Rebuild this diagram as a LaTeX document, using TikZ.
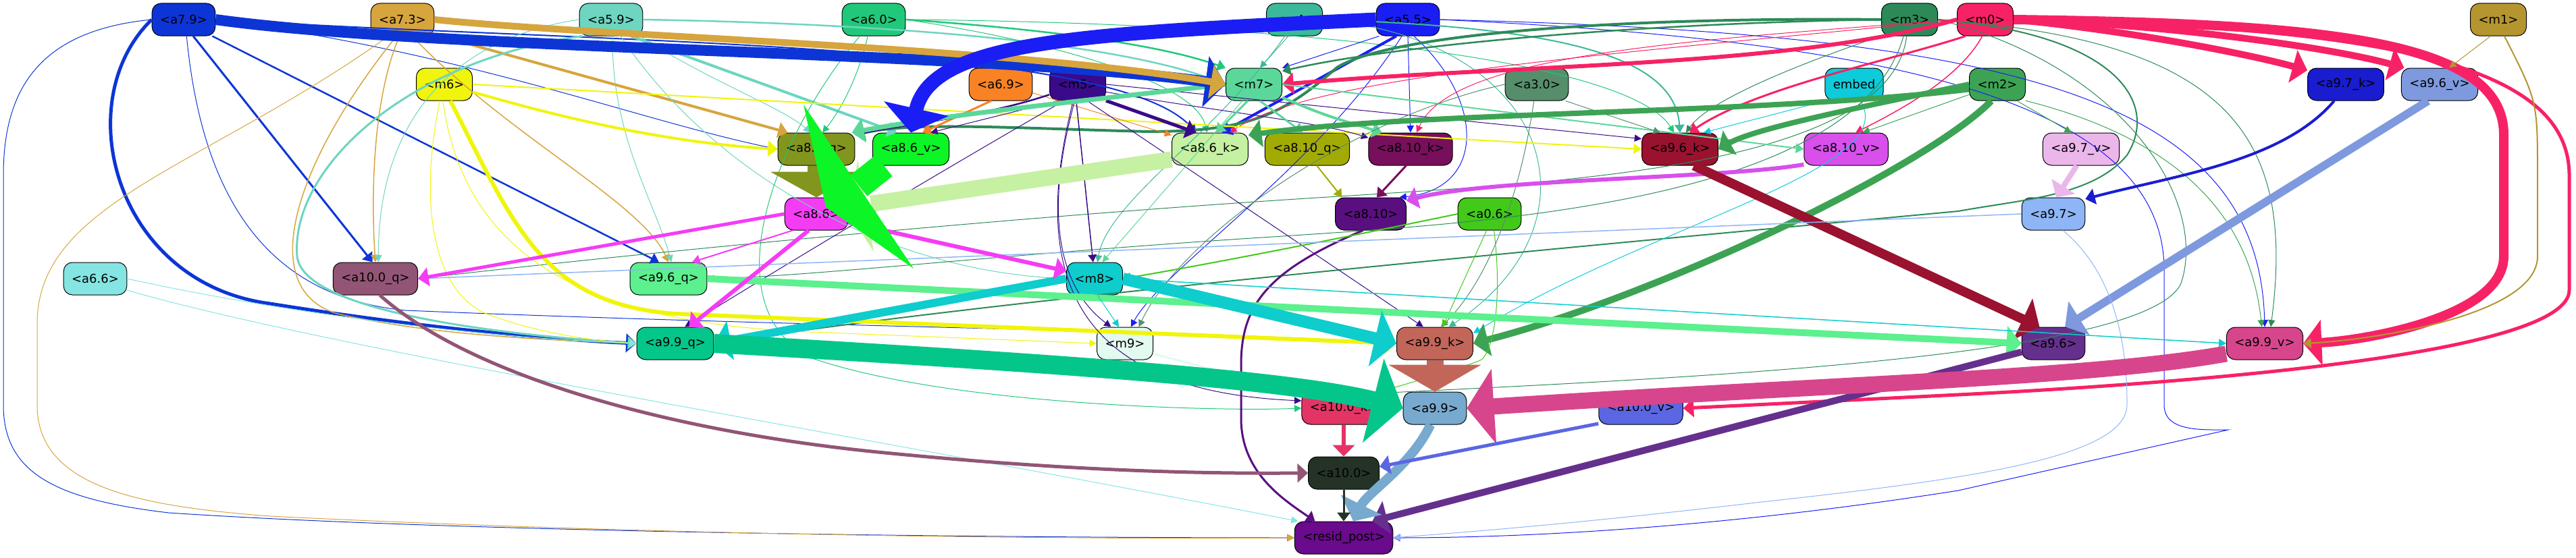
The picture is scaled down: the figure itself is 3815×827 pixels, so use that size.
\documentclass[tikz,border=0pt]{standalone}
\usepackage{fontspec}
\setmainfont{DejaVu Sans}
\usetikzlibrary{arrows.meta}
\definecolor{c79}{HTML}{0D35D6}\definecolor{c73}{HTML}{D6A53E}\definecolor{c59}{HTML}{6DD5C0}
\definecolor{c60}{HTML}{22C87A}\definecolor{cm4}{HTML}{3CB99A}\definecolor{c55}{HTML}{1A1EF5}
\definecolor{c3}{HTML}{2D8A58}\definecolor{c0}{HTML}{F72265}\definecolor{c1}{HTML}{B5952F}
\definecolor{c6}{HTML}{F0F50B}\definecolor{c69}{HTML}{F98225}\definecolor{c5}{HTML}{3A0A8A}
\definecolor{c7}{HTML}{5CD79A}\definecolor{c30}{HTML}{568E6C}\definecolor{cem}{HTML}{0ECBDB}
\definecolor{c2}{HTML}{3DA354}\definecolor{c97k}{HTML}{1A1CD0}\definecolor{c96v}{HTML}{7E99DE}
\definecolor{c86q}{HTML}{82951E}\definecolor{c86v}{HTML}{0CF526}\definecolor{c86k}{HTML}{C6F0A2}
\definecolor{c810q}{HTML}{A2AB04}\definecolor{c810k}{HTML}{770F5C}\definecolor{c96k}{HTML}{9A1230}
\definecolor{c810v}{HTML}{D84FEC}\definecolor{c97v}{HTML}{EBB6EA}\definecolor{c86}{HTML}{F53CF5}
\definecolor{c810}{HTML}{5A0F80}\definecolor{c06}{HTML}{43C91A}\definecolor{c97}{HTML}{8EB5F5}
\definecolor{c66}{HTML}{85E5E2}\definecolor{c100q}{HTML}{925575}\definecolor{c96q}{HTML}{5CF08E}
\definecolor{c8}{HTML}{0ECDCC}\definecolor{c96}{HTML}{65308D}\definecolor{c99q}{HTML}{05C68A}
\definecolor{c9}{HTML}{E2FAEF}\definecolor{c99k}{HTML}{C3665A}\definecolor{c99v}{HTML}{D7468C}
\definecolor{c100k}{HTML}{E33565}\definecolor{c99}{HTML}{78A9CF}\definecolor{c100v}{HTML}{5B66E3}
\definecolor{c100}{HTML}{243325}\definecolor{cres}{HTML}{6A0A8C}
\begin{document}
\begin{tikzpicture}[x=1bp,y=-1bp,
 nd/.style={draw=black,line width=1bp,rounded corners=13bp,minimum height=48bp,minimum width=83bp,inner xsep=12bp,inner ysep=0bp,font=\fontsize{18}{21}\selectfont,text=black},
 ed/.style 2 args={draw=#1,line width=#2bp,-{Triangle[length=9bp 1.3,width=6bp 4.3]}},
 bigtip/.style 2 args={-{Triangle[length=#1bp,width=#2bp]}}]
\useasboundingbox (0,0) rectangle (3815,827);
% nodes
\node[nd,fill=c79] (a79) at (272,29) {<a7.9>};
\node[nd,fill=c73] (a73) at (596,29) {<a7.3>};
\node[nd,fill=c59] (a59) at (905,29) {<a5.9>};
\node[nd,fill=c60] (a60) at (1294,29) {<a6.0>};
\node[nd,fill=cm4] (m4) at (1917,29) {<m4>};
\node[nd,fill=c55] (a55) at (2085,29) {<a5.5>};
\node[nd,fill=c3] (m3) at (2828,29) {<m3>};
\node[nd,fill=c0] (m0) at (2940,29) {<m0>};
\node[nd,fill=c1] (m1) at (3700,29) {<m1>};
\node[nd,fill=c6] (m6) at (658,125) {<m6>};
\node[nd,fill=c69] (a69) at (1482,125) {<a6.9>};
\node[nd,fill=c5] (m5) at (1596,125) {<m5>};
\node[nd,fill=c7] (m7) at (1857,125) {<m7>};
\node[nd,fill=c30] (a30) at (2276,125) {<a3.0>};
\node[nd,fill=cem] (embed) at (2746,125) {embed};
\node[nd,fill=c2] (m2) at (2958,125) {<m2>};
\node[nd,fill=c97k] (a97k) at (3474,125) {<a9.7\_k>};
\node[nd,fill=c96v] (a96v) at (3613,125) {<a9.6\_v>};
\node[nd,fill=c86q] (a86q) at (1209,221) {<a8.6\_q>};
\node[nd,fill=c86v] (a86v) at (1349,221) {<a8.6\_v>};
\node[nd,fill=c86k] (a86k) at (1792,221) {<a8.6\_k>};
\node[nd,fill=c810q] (a810q) at (1936,221) {<a8.10\_q>};
\node[nd,fill=c810k] (a810k) at (2089,221) {<a8.10\_k>};
\node[nd,fill=c96k] (a96k) at (2488,221) {<a9.6\_k>};
\node[nd,fill=c810v] (a810v) at (2734,221) {<a8.10\_v>};
\node[nd,fill=c97v] (a97v) at (3082,221) {<a9.7\_v>};
\node[nd,fill=c86] (a86) at (1209,317) {<a8.6>};
\node[nd,fill=c810] (a810) at (2030,317) {<a8.10>};
\node[nd,fill=c06] (a06) at (2206,317) {<a0.6>};
\node[nd,fill=c97] (a97) at (3041,317) {<a9.7>};
\node[nd,fill=c66] (a66) at (141,413) {<a6.6>};
\node[nd,fill=c100q] (a100q) at (556,413) {<a10.0\_q>};
\node[nd,fill=c96q] (a96q) at (990,413) {<a9.6\_q>};
\node[nd,fill=c8] (m8) at (1621,413) {<m8>};
\node[nd,fill=c96] (a96) at (3041,509) {<a9.6>};
\node[nd,fill=c99q] (a99q) at (1000,509) {<a9.9\_q>};
\node[nd,fill=c9] (m9) at (1666,509) {<m9>};
\node[nd,fill=c99k] (a99k) at (2125,509) {<a9.9\_k>};
\node[nd,fill=c99v] (a99v) at (3354,509) {<a9.9\_v>};
\node[nd,fill=c100k] (a100k) at (1990,605) {<a10.0\_k>};
\node[nd,fill=c99] (a99) at (2125,605) {<a9.9>};
\node[nd,fill=c100v] (a100v) at (2430,605) {<a10.0\_v>};
\node[nd,fill=c100] (a100) at (1990,701) {<a10.0>};
\node[nd,fill=cres] (resid) at (1990,797) {<resid\_post>};
% thin / medium edges
\draw[ed={c79}{3}] (a79.-60) -- (a100q.100);
\draw[ed={c79}{2.5}] (a79.-30) -- (a96q.120);
\draw[ed={c79}{5}] (a79.west) .. controls (100,150) and (170,420) .. (400,450) .. controls (650,490) and (850,505) .. (a99q.west);
\draw[ed={c79}{1}] (a79.west) .. controls (60,45) and (5,130) .. (5,260) -- (5,600) .. controls (5,700) and (80,740) .. (250,760) .. controls (700,790) and (1500,797) .. (resid.west);
\draw[ed={c79}{1}] (a79.east) .. controls (700,80) and (950,180) .. (a86q.west);
\draw[ed={c79}{1}] (a79.-80) .. controls (300,300) and (400,440) .. (600,460) .. controls (1200,485) and (1800,490) .. (a99k.west);
\draw[ed={c79}{2}] (a79.east) .. controls (900,65) and (1650,60) .. (a86k.130);
\draw[ed={c73}{4}] (a73.-25) -- (a86q.150);
\draw[ed={c73}{1.5}] (a73.-100) .. controls (550,150) and (550,300) .. (a100q.north);
\draw[ed={c73}{1.5}] (a73.-60) .. controls (750,200) and (950,300) .. (a96q.north);
\draw[ed={c73}{1}] (a73.-130) .. controls (300,250) and (55,300) .. (55,480) -- (55,600) .. controls (55,720) and (200,750) .. (400,765) .. controls (900,790) and (1500,800) .. (resid.west);
\draw[ed={c73}{1.5}] (a73.-110) .. controls (430,250) and (380,430) .. (500,465) .. controls (650,500) and (850,505) .. (a99q.west);
\draw[ed={c59}{2.5}] (a59.east) .. controls (1300,35) and (1650,60) .. (m7.west);
\draw[ed={c59}{4}] (a59.-40) -- (a86v.130);
\draw[ed={c59}{1}] (a59.-85) .. controls (905,200) and (970,300) .. (a96q.80);
\draw[ed={c59}{1}] (a59.west) .. controls (650,60) and (560,200) .. (a100q.80);
\draw[ed={c59}{3}] (a59.-150) .. controls (600,90) and (430,250) .. (440,380) .. controls (450,470) and (800,500) .. (a99q.west);
\draw[ed={c59}{1}] (a59.-60) .. controls (1050,250) and (1300,400) .. (m8.west);
\draw[ed={c59}{1}] (a59.-30) .. controls (1050,120) and (1160,160) .. (a86q.110);
\draw[ed={c60}{2.5}] (a60.east) .. controls (1500,40) and (1700,60) .. (m7.150);
\draw[ed={c60}{1}] (a60.-110) .. controls (1270,120) and (1240,170) .. (a86q.70);
\draw[ed={c60}{1}] (a60.east) .. controls (1550,60) and (1770,120) .. (a86k.100);
\draw[ed={c60}{1}] (a60.-130) .. controls (1150,200) and (1050,450) .. (1200,530) .. controls (1400,600) and (1800,610) .. (a100k.west);
\draw[ed={c60}{1}] (a60.east) .. controls (2000,35) and (2420,100) .. (a96k.110);
\draw[ed={cm4}{1}] (m4.-110) -- (m7.70);
\draw[ed={cm4}{2}] (m4.east) .. controls (2300,40) and (2480,80) .. (a96k.north);
\draw[ed={cm4}{1}] (m4.east) .. controls (2300,60) and (2380,330) .. (a99k.50);
\draw[ed={cm4}{1}] (m4.-120) .. controls (1800,200) and (1640,300) .. (m8.80);
\draw[ed={c55}{4}] (a55.-125) -- (a86k.55);
\draw[ed={c55}{1}] (a55.south) -- (a810k.north);
\draw[ed={c55}{1}] (a55.-70) .. controls (2200,150) and (2200,280) .. (a810.30);
\draw[ed={c55}{1}] (a55.-110) .. controls (1950,250) and (1720,400) .. (m9.70);
\draw[ed={c55}{1}] (a55.east) .. controls (3000,50) and (3345,150) .. (a99v.north);
\draw[ed={c55}{1}] (a55.east) .. controls (2800,60) and (3205,150) .. (3205,400) -- (3205,600) .. controls (3205,640) and (3260,637) .. (3300,637) -- (2900,727) .. controls (2500,790) and (2200,797) .. (resid.east);
\draw[ed={c55}{1}] (a55.-150) -- (m7.30);
\draw[ed={c3}{4}] (m3.west) .. controls (2400,25) and (2060,50) .. (1980,100) .. controls (1900,170) and (1850,195) .. (1700,195) .. controls (1500,190) and (1350,180) .. (a86q.20);
\draw[ed={c3}{2.5}] (m3.west) .. controls (2400,35) and (2050,70) .. (m7.25);
\draw[ed={c3}{2}] (m3.east) .. controls (3130,50) and (3200,150) .. (3150,230) .. controls (3100,290) and (3000,295) .. (2900,313) .. controls (2400,360) and (1500,440) .. (a99q.east);
\draw[ed={c3}{1}] (m3.-150) .. controls (2650,100) and (2530,150) .. (a96k.70);
\draw[ed={c3}{1}] (m3.east) .. controls (3300,60) and (3400,200) .. (a99v.70);
\draw[ed={c3}{1}] (m3.east) .. controls (3150,100) and (3270,300) .. (3230,420) .. controls (3180,530) and (2500,560) .. (a100k.20);
\draw[ed={c3}{1}] (m3.-100) .. controls (2800,250) and (2300,270) .. (2000,290) .. controls (1500,320) and (900,380) .. (a100q.east);
\draw[ed={c3}{1}] (m3.-110) .. controls (2750,300) and (2200,330) .. (1900,350) .. controls (1500,375) and (1200,410) .. (a96q.east);
\draw[ed={c0}{6}] (m0.west) .. controls (2650,100) and (2250,95) .. (m7.east);
\draw[ed={c0}{10}] (m0.east) .. controls (3150,45) and (3330,80) .. (a97k.160);
\draw[ed={c0}{10}] (m0.east) .. controls (3200,35) and (3450,70) .. (a96v.155);
\draw[ed={c0}{14}] (m0.east) .. controls (3450,35) and (3708,60) .. (3708,200) -- (3708,380) .. controls (3708,470) and (3500,505) .. (a99v.east);
\draw[ed={c0}{5}] (m0.east) .. controls (3550,40) and (3805,100) .. (3805,260) -- (3805,430) .. controls (3805,520) and (3300,565) .. (2900,585) .. controls (2700,595) and (2600,600) .. (a100v.east);
\draw[ed={c0}{3}] (m0.-140) .. controls (2800,90) and (2600,130) .. (a96k.60);
\draw[ed={c0}{1.5}] (m0.-100) .. controls (2900,120) and (2800,170) .. (a810v.60);
\draw[ed={c0}{1}] (m0.west) .. controls (2500,60) and (2150,80) .. (a810k.70);
\draw[ed={c0}{1}] (m0.west) .. controls (2400,80) and (1950,110) .. (a86k.40);
\draw[ed={c1}{1}] (m1.-115) -- (a96v.60);
\draw[ed={c1}{2}] (m1.-70) .. controls (3758,150) .. (3758,260) -- (3758,380) .. controls (3758,470) and (3500,505) .. (a99v.east);
\draw[ed={c6}{4}] (m6.-15) .. controls (850,180) and (1000,212) .. (a86q.west);
\draw[ed={c6}{2}] (m6.east) -- (a96k.west);
\draw[ed={c6}{6}] (m6.-70) .. controls (760,330) and (800,450) .. (1000,465) -- (a99k.west);
\draw[ed={c6}{1}] (m6.-95) .. controls (690,400) and (900,480) .. (1200,492) .. controls (1400,500) .. (m9.west);
\draw[ed={c6}{1}] (m6.-105) .. controls (620,300) and (640,430) .. (720,465) .. controls (800,495) and (880,505) .. (a99q.west);
\draw[ed={c69}{3}] (a69.-120) -- (a86v.55);
\draw[ed={c69}{1}] (a69.-15) -- (a86k.160);
\draw[ed={c5}{5}] (m5.-30) -- (a86k.130);
\draw[ed={c5}{2.5}] (m5.200) .. controls (1450,175) and (1330,185) .. (a86q.20);
\draw[ed={c5}{1}] (m5.-140) -- (a86v.40);
\draw[ed={c5}{1.5}] (m5.-95) -- (m8.95);
\draw[ed={c5}{1}] (m5.-100) .. controls (1550,300) and (1560,420) .. (m9.130);
\draw[ed={c5}{1}] (m5.-105) .. controls (1520,420) and (1600,580) .. (a100k.170);
\draw[ed={c5}{1}] (m5.-130) .. controls (1400,250) and (1150,400) .. (a99q.60);
\draw[ed={c5}{1}] (m5.east) -- (a96k.165);
\draw[ed={c5}{1}] (m5.-15) .. controls (1800,165) and (1950,180) .. (a810k.165);
\draw[ed={c5}{1}] (m5.-60) -- (a99k.125);
\draw[ed={c7}{7}] (m7.west) .. controls (1600,150) and (1400,170) .. (a86q.25);
\draw[ed={c7}{3}] (m7.-110) -- (a86k.70);
\draw[ed={c7}{3}] (m7.-70) -- (a810q.105);
\draw[ed={c7}{4}] (m7.-25) .. controls (1960,170) .. (a810k.150);
\draw[ed={c7}{2}] (m7.east) -- (a810v.west);
\draw[ed={c7}{1}] (m7.-125) -- (m8.65);
\draw[ed={c30}{1}] (a30.-30) -- (a96k.140);
\draw[ed={c30}{1}] (a30.-100) .. controls (2250,300) and (2200,420) .. (a99k.70);
\draw[ed={c30}{1}] (a30.west) .. controls (2000,175) and (1750,350) .. (m9.50);
\draw[ed={cem}{1}] (embed.-150) -- (a96k.35);
\draw[ed={cem}{1}] (embed.-70) .. controls (2820,250) and (2450,330) .. (a99k.15);
\draw[ed={c2}{8}] (m2.190) .. controls (2600,170) and (2100,165) .. (a86k.20);
\draw[ed={c2}{8}] (m2.west) .. controls (2750,160) and (2600,190) .. (a96k.east);
\draw[ed={c2}{10}] (m2.-110) .. controls (2850,250) and (2450,440) .. (a99k.east);
\draw[ed={c2}{1}] (m2.-160) -- (a810v.45);
\draw[ed={c2}{1}] (m2.-40) -- (a97v.120);
\draw[ed={c2}{1}] (m2.-30) .. controls (3200,200) and (3330,300) .. (a99v.100);
\draw[ed={c97k}{4}] (a97k.-125) .. controls (3380,240) and (3220,260) .. (a97.25);
\draw[ed={c96v}{12}] (a96v.-125) -- (a96.55);
\draw[ed={c97v}{8}] (a97v.-105) -- (a97.80);
\draw[ed={c810q}{2}] (a810q.-60) -- (a810.150);
\draw[ed={c810k}{3}] (a810k.-105) -- (a810.70);
\draw[ed={c810v}{6}] (a810v.200) .. controls (2550,265) and (2200,265) .. (a810.20);
\draw[ed={c96k}{14}] (a96k.-50) -- (a96.130);
\draw[ed={c810}{3}] (a810.-115) .. controls (1880,400) and (1838,450) .. (1838,540) -- (1838,620) .. controls (1838,700) and (1900,740) .. (resid.150);
\draw[ed={c06}{2}] (a06.west) .. controls (2000,350) and (1800,390) .. (m8.east);
\draw[ed={c06}{1}] (a06.-100) -- (a99k.65);
\draw[ed={c06}{1}] (a06.-75) .. controls (2226,450) and (2210,530) .. (2190,535) .. controls (2150,550) and (2080,570) .. (a100k.25);
\draw[ed={c97}{1.5}] (a97.west) -- (a100q.east);
\draw[ed={c97}{1}] (a97.-60) .. controls (3150,420) and (3150,560) .. (3150,600) .. controls (3150,680) and (2900,712) .. (2600,745) .. controls (2300,780) and (2150,790) .. (resid.east);
\draw[ed={c66}{1}] (a66.east) .. controls (400,460) and (700,500) .. (a99q.west);
\draw[ed={c66}{1}] (a66.-20) .. controls (500,520) and (1300,650) .. (resid.160);
\draw[ed={c100q}{5}] (a100q.-75) .. controls (700,560) and (1000,640) .. (1300,670) .. controls (1600,700) and (1800,702) .. (a100.west);
\draw[ed={c96q}{10}] (a96q.east) -- (a96.west);
\draw[ed={c8}{12}] (m8.west) -- (a99q.east);
\draw[ed={c8}{18}] (m8.east) -- (a99k.west);
\draw[ed={c8}{1}] (m8.-80) -- (m9.110);
\draw[ed={c8}{1.5}] (m8.east) -- (a99v.west);
\draw[ed={c96}{10}] (a96.-165) -- (resid.30);
\draw[ed={c9}{3}] (m9.-20) -- (a100k.160);
\draw[ed={c99q}{28}] (a99q.east) .. controls (1500,535) and (1900,560) .. (a99.west);
\draw[ed={c99v}{24}] (a99v.-165) .. controls (3100,560) and (2700,570) .. (a99.east);
\draw[ed={c99k}{25},bigtip={40}{136}] (a99k.south) -- (a99.north);
\draw[ed={c100k}{6}] (a100k.south) -- (a100.north);
\draw[ed={c99}{14}] (a99.-105) .. controls (2090,690) and (2025,730) .. (resid.60);
\draw[ed={c100v}{5}] (a100v.200) -- (a100.10);
\draw[ed={c100}{3}] (a100.south) -- (resid.north);
\draw[ed={c86}{6}] (a86.-15) -- (m8.165);
\draw[ed={c86}{5}] (a86.west) -- (a100q.east);
\draw[ed={c86}{6}] (a86.-115) -- (a99q.50);
\draw[ed={c86}{2}] (a86.-145) -- (a96q.35);
% heavy edges on top
\draw[ed={c79}{16}] (a79.east) .. controls (650,75) and (1450,75) .. (m7.west);
\draw[ed={c73}{10}] (a73.east) .. controls (900,55) and (1500,70) .. (m7.west);
\draw[ed={c55}{21}] (a55.west) .. controls (1600,50) and (1380,60) .. (a86v.north);
\draw[c86k,line width=24bp] (a86k.-165) -- (1290,302);
\fill[c86k] (1270,236) -- (1294,373) -- (1258,318) -- cycle;
\draw[ed={c86q}{27},bigtip={38}{135}] (a86q.south) -- (a86.north);
\draw[c86v,line width=40bp] ([xshift=-40bp]a86v.south) -- (1272,275);
\fill[c86v] (1190,155) -- (1353,398) -- (1223,307) -- cycle;
\end{tikzpicture}
\end{document}
